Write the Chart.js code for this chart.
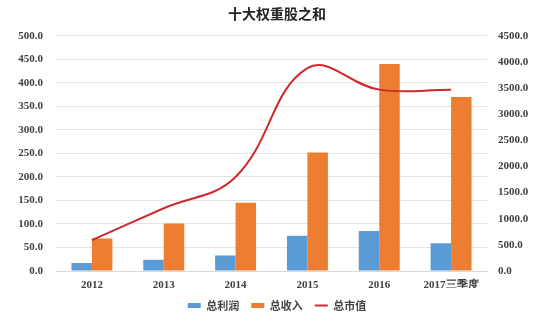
<!DOCTYPE html>
<html><head><meta charset="utf-8">
<script src="https://cdn.jsdelivr.net/npm/chart.js@4/dist/chart.umd.min.js"></script>
<style>html,body{margin:0;padding:0;background:#fff}#wrap{width:554px;height:329px}</style>
</head><body><div id="wrap"><canvas id="c" width="554" height="329"></canvas></div>
<script>
const categories = ['2012','2013','2014','2015','2016','2017三季度'];
const profit = [17, 24, 33, 75, 85, 59];
const revenue = [69, 101, 145, 252, 440, 370];
const marketCap = [590, 1200, 1800, 3880, 3470, 3470];
const seriesNames = ['总利润','总收入','总市值'];
const title = '十大权重股之和';

const tickFont = {family:'"Liberation Serif", "Times New Roman", serif', size:11, weight:'bold'};
const cjk = '"Noto Sans CJK SC", "Liberation Serif", serif';
new Chart(document.getElementById('c'), {
  data: {
    labels: categories,
    datasets: [
      {type:'line', label:seriesNames[2], data:marketCap, yAxisID:'y1', borderColor:'#D0282B', backgroundColor:'#D0282B', borderWidth:2, pointRadius:0, tension:0.4, order:0, pointStyle:'line'},
      {type:'bar', label:seriesNames[0], data:profit, yAxisID:'y', backgroundColor:'#5B9BD5', categoryPercentage:0.57, barPercentage:1, order:1, pointStyle:'rect'},
      {type:'bar', label:seriesNames[1], data:revenue, yAxisID:'y', backgroundColor:'#ED7D31', categoryPercentage:0.57, barPercentage:1, order:1, pointStyle:'rect'}
    ]
  },
  options: {
    responsive:false, animation:false,
    layout:{padding:{left:0,right:0,top:4,bottom:8}},
    plugins:{
      title:{display:true, text:title, font:{family:cjk, size:14, weight:'bold'}, color:'#222', padding:{top:1,bottom:14}},
      legend:{position:'bottom', labels:{
        usePointStyle:true, pointStyleWidth:13, boxHeight:5, padding:12,
        font:{family:cjk, size:11, weight:'bold'}, color:'#444',
        sort:(a,b)=>[1,2,0].indexOf(a.datasetIndex)-[1,2,0].indexOf(b.datasetIndex)
      }},
      tooltip:{enabled:false}
    },
    scales:{
      x:{grid:{display:false, drawTicks:false}, border:{display:true, color:'#d9d9d9'},
         ticks:{font:tickFont, color:'#404040', padding:8, maxRotation:0},
         afterFit:s=>{s.height=17;}},
      y:{position:'left', min:0, max:500, ticks:{stepSize:50, font:tickFont, color:'#404040', padding:13, callback:v=>v.toFixed(1)},
         grid:{color:'#e3e3e3', drawTicks:false}, border:{display:false},
         afterFit:s=>{s.width=56;}},
      y1:{position:'right', min:0, max:4500, ticks:{stepSize:500, font:tickFont, color:'#404040', padding:11, callback:v=>v.toFixed(1)},
         grid:{display:false, drawTicks:false}, border:{display:false},
         afterFit:s=>{s.width=67;}}
    }
  }
});
</script></body></html>
